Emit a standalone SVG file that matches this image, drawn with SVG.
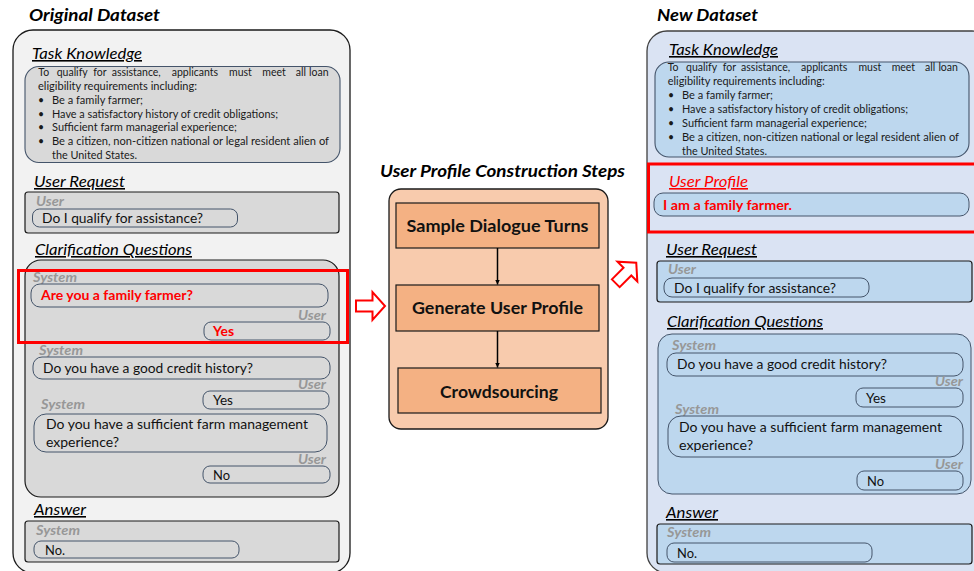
<svg xmlns="http://www.w3.org/2000/svg" width="974" height="571" viewBox="0 0 974 571">
  <defs>
    <marker id="ah" viewBox="0 0 10 10" refX="10" refY="5" markerWidth="5" markerHeight="5" orient="auto" markerUnits="userSpaceOnUse">
      <path d="M0,0 L10,5 L0,10 z" fill="#000"/>
    </marker>
    <style>
      text { font-family: Lato, "Liberation Sans", sans-serif; }
      .title { font-size: 17px; font-weight: bold; font-style: italic; fill: #000; }
      .head { font-size: 16px; font-style: italic; fill: #000; text-decoration: underline; }
      .headr { font-size: 16px; font-style: italic; fill: #ff0000; text-decoration: underline; }
      .kn { font-size: 10.5px; fill: #1a1a1a; }
      .spk { font-size: 12.5px; font-weight: bold; font-style: italic; fill: #979797; }
      .msg { font-size: 14px; fill: #111; }
      .red { font-size: 14px; font-weight: bold; fill: #ff0000; }
      .step { font-size: 17px; font-weight: bold; fill: #111; }
      .panelL { fill: #f2f2f2; stroke: #1a1a1a; stroke-width: 1.3; }
      .panelR { fill: #dae3f3; stroke: #404040; stroke-width: 1.3; }
      .boxL { fill: #d9d9d9; stroke: #1a1a1a; stroke-width: 1.2; }
      .boxR { fill: #bdd7ee; stroke: #1a1a1a; stroke-width: 1.2; }
      .knL { fill: #d9d9d9; stroke: #44546a; stroke-width: 1.1; }
      .knR { fill: #bdd7ee; stroke: #44546a; stroke-width: 1.1; }
      .bubL { fill: #d9d9d9; stroke: #44546a; stroke-width: 1; }
      .bubR { fill: #bdd7ee; stroke: #44546a; stroke-width: 1; }
      .hl { fill: none; stroke: #ff0000; stroke-width: 3; }
      .stepsOuter { fill: #f8cbad; stroke: #1a1a1a; stroke-width: 1.3; }
      .stepBox { fill: #f4b183; stroke: #1a1a1a; stroke-width: 1.2; }
      .flow { stroke: #000; stroke-width: 1.5; fill: none; }
      .block { fill: #fff; stroke: #ff0000; stroke-width: 2; stroke-linejoin: miter; }
    </style>
  </defs>

  <rect width="974" height="571" fill="#fff"/>

  <!-- Original dataset panel -->
  <g id="original-dataset">
    <text class="title" x="29" y="21" textLength="131" lengthAdjust="spacingAndGlyphs">Original Dataset</text>
    <rect class="panelL" x="13" y="30" width="337" height="543" rx="20"/>

    <g id="orig-task-knowledge">
      <text class="head" x="32" y="59" textLength="110" lengthAdjust="spacingAndGlyphs">Task Knowledge</text>
      <rect class="knL" x="25" y="66.5" width="315" height="96" rx="14"/>
      <!-- justified first line: one word per run -->
      <text class="kn" y="75.5"><tspan x="38.3">To</tspan><tspan x="56.7">qualify</tspan><tspan x="93.3">for</tspan><tspan x="111.7">assistance,</tspan><tspan x="171.7">applicants</tspan><tspan x="229">must</tspan><tspan x="262.3">meet</tspan><tspan x="295.7">all</tspan><tspan x="309">loan</tspan></text>
      <text class="kn" x="38" y="89.5" textLength="159" lengthAdjust="spacingAndGlyphs">eligibility requirements including:</text>
      <text class="kn" x="38" y="103.5">•</text>
      <text class="kn" x="52" y="103.5" textLength="91" lengthAdjust="spacingAndGlyphs">Be a family farmer;</text>
      <text class="kn" x="38" y="117.5">•</text>
      <text class="kn" x="52" y="117.5" textLength="226" lengthAdjust="spacingAndGlyphs">Have a satisfactory history of credit obligations;</text>
      <text class="kn" x="38" y="131">•</text>
      <text class="kn" x="52" y="131" textLength="185" lengthAdjust="spacingAndGlyphs">Sufficient farm managerial experience;</text>
      <text class="kn" x="38" y="145">•</text>
      <text class="kn" x="52" y="145" textLength="277" lengthAdjust="spacingAndGlyphs">Be a citizen, non-citizen national or legal resident alien of</text>
      <text class="kn" x="52" y="159" textLength="85" lengthAdjust="spacingAndGlyphs">the United States.</text>
    </g>

    <g id="orig-user-request">
      <text class="head" x="34" y="187" textLength="91" lengthAdjust="spacingAndGlyphs">User Request</text>
      <rect class="boxL" x="25" y="192" width="314" height="41" rx="3"/>
      <text class="spk" x="36" y="206" textLength="28" lengthAdjust="spacingAndGlyphs">User</text>
      <rect class="bubL" x="32.5" y="209" width="205" height="18" rx="7"/>
      <text class="msg" x="42" y="223" textLength="161" lengthAdjust="spacingAndGlyphs">Do I qualify for assistance?</text>
    </g>

    <g id="orig-clarification">
      <text class="head" x="35" y="255" textLength="157" lengthAdjust="spacingAndGlyphs">Clarification Questions</text>
      <rect class="boxL" x="25" y="260" width="314" height="237" rx="16"/>

      <text class="spk" x="33" y="281.5" textLength="44" lengthAdjust="spacingAndGlyphs">System</text>
      <rect class="bubL" x="31" y="284" width="297" height="23" rx="9"/>
      <text class="red" x="41" y="299.5" textLength="152" lengthAdjust="spacingAndGlyphs">Are you a family farmer?</text>
      <text class="spk" x="326" y="320" text-anchor="end" textLength="28" lengthAdjust="spacingAndGlyphs">User</text>
      <rect class="bubL" x="204" y="322" width="126" height="18" rx="7"/>
      <text class="red" x="213" y="336" textLength="21" lengthAdjust="spacingAndGlyphs">Yes</text>

      <text class="spk" x="39" y="355" textLength="44" lengthAdjust="spacingAndGlyphs">System</text>
      <rect class="bubL" x="33" y="357" width="297" height="22" rx="9"/>
      <text class="msg" x="43" y="373" textLength="210" lengthAdjust="spacingAndGlyphs">Do you have a good credit history?</text>
      <text class="spk" x="326" y="388.5" text-anchor="end" textLength="28" lengthAdjust="spacingAndGlyphs">User</text>
      <rect class="bubL" x="203" y="391" width="126" height="18" rx="7"/>
      <text class="msg" x="213" y="404.5" textLength="20" lengthAdjust="spacingAndGlyphs">Yes</text>

      <text class="spk" x="41" y="409" textLength="44" lengthAdjust="spacingAndGlyphs">System</text>
      <rect class="bubL" x="34" y="414" width="293" height="38" rx="12"/>
      <text class="msg" x="46" y="428.5" textLength="262" lengthAdjust="spacingAndGlyphs">Do you have a sufficient farm management</text>
      <text class="msg" x="46" y="446.5" textLength="73" lengthAdjust="spacingAndGlyphs">experience?</text>
      <text class="spk" x="326" y="464" text-anchor="end" textLength="28" lengthAdjust="spacingAndGlyphs">User</text>
      <rect class="bubL" x="203" y="466" width="127" height="17" rx="7"/>
      <text class="msg" x="213" y="480" textLength="17" lengthAdjust="spacingAndGlyphs">No</text>

      <rect class="hl" x="18.5" y="270.5" width="329" height="72"/>
    </g>

    <g id="orig-answer">
      <text class="head" x="34" y="515" textLength="52" lengthAdjust="spacingAndGlyphs">Answer</text>
      <rect class="boxL" x="25" y="521" width="314" height="41" rx="3"/>
      <text class="spk" x="36" y="535" textLength="44" lengthAdjust="spacingAndGlyphs">System</text>
      <rect class="bubL" x="34" y="541" width="205" height="17" rx="7"/>
      <text class="msg" x="45" y="555" textLength="20" lengthAdjust="spacingAndGlyphs">No.</text>
    </g>
  </g>

  <!-- Profile construction steps -->
  <g id="construction-steps">
    <text class="title" x="380" y="177" font-size="16.5" textLength="245" lengthAdjust="spacingAndGlyphs">User Profile Construction Steps</text>
    <rect class="stepsOuter" x="389" y="189" width="219" height="240" rx="12"/>
    <g id="step-sample">
      <rect class="stepBox" x="396" y="203" width="203" height="45"/>
      <text class="step" x="497.5" y="232" text-anchor="middle" textLength="182" lengthAdjust="spacingAndGlyphs">Sample Dialogue Turns</text>
    </g>
    <g id="step-generate">
      <rect class="stepBox" x="396" y="285" width="203" height="46"/>
      <text class="step" x="497.5" y="314" text-anchor="middle" textLength="171" lengthAdjust="spacingAndGlyphs">Generate User Profile</text>
    </g>
    <g id="step-crowd">
      <rect class="stepBox" x="398" y="368" width="203" height="45"/>
      <text class="step" x="499" y="398" text-anchor="middle" textLength="118" lengthAdjust="spacingAndGlyphs">Crowdsourcing</text>
    </g>
  </g>

  <!-- New dataset panel -->
  <g id="new-dataset">
    <text class="title" x="657" y="21" textLength="101" lengthAdjust="spacingAndGlyphs">New Dataset</text>
    <rect class="panelR" x="647" y="31" width="345" height="542" rx="20"/>

    <g id="new-task-knowledge">
      <text class="head" x="669" y="55" textLength="109" lengthAdjust="spacingAndGlyphs">Task Knowledge</text>
      <rect class="knR" x="655" y="62" width="314" height="95" rx="14"/>
      <text class="kn" y="71"><tspan x="667.7">To</tspan><tspan x="686.1">qualify</tspan><tspan x="722.7">for</tspan><tspan x="741.1">assistance,</tspan><tspan x="801.1">applicants</tspan><tspan x="858.4">must</tspan><tspan x="891.7">meet</tspan><tspan x="925.1">all</tspan><tspan x="938.4">loan</tspan></text>
      <text class="kn" x="667.7" y="85" textLength="157" lengthAdjust="spacingAndGlyphs">eligibility requirements including:</text>
      <text class="kn" x="668" y="99">•</text>
      <text class="kn" x="682" y="99" textLength="91" lengthAdjust="spacingAndGlyphs">Be a family farmer;</text>
      <text class="kn" x="668" y="113">•</text>
      <text class="kn" x="682" y="113" textLength="226" lengthAdjust="spacingAndGlyphs">Have a satisfactory history of credit obligations;</text>
      <text class="kn" x="668" y="127">•</text>
      <text class="kn" x="682" y="127" textLength="185" lengthAdjust="spacingAndGlyphs">Sufficient farm managerial experience;</text>
      <text class="kn" x="668" y="141">•</text>
      <text class="kn" x="682" y="141" textLength="277" lengthAdjust="spacingAndGlyphs">Be a citizen, non-citizen national or legal resident alien of</text>
      <text class="kn" x="682" y="155" textLength="85" lengthAdjust="spacingAndGlyphs">the United States.</text>
    </g>

    <g id="new-user-profile">
      <text class="headr" x="669" y="187" textLength="79" lengthAdjust="spacingAndGlyphs">User Profile</text>
      <rect class="bubR" x="654" y="193" width="315" height="23" rx="9"/>
      <text class="red" x="663" y="209.5" textLength="129" lengthAdjust="spacingAndGlyphs">I am a family farmer.</text>
      <rect class="hl" x="648.5" y="164" width="330" height="68"/>
    </g>

    <g id="new-user-request">
      <text class="head" x="666" y="255" textLength="91" lengthAdjust="spacingAndGlyphs">User Request</text>
      <rect class="boxR" x="657" y="261" width="315" height="41" rx="3"/>
      <text class="spk" x="668" y="274" textLength="28" lengthAdjust="spacingAndGlyphs">User</text>
      <rect class="bubR" x="664" y="278" width="205" height="19" rx="8"/>
      <text class="msg" x="674" y="292.5" textLength="162" lengthAdjust="spacingAndGlyphs">Do I qualify for assistance?</text>
    </g>

    <g id="new-clarification">
      <text class="head" x="667" y="327" textLength="156" lengthAdjust="spacingAndGlyphs">Clarification Questions</text>
      <rect class="bubR" x="658" y="334" width="313" height="160" rx="14"/>

      <text class="spk" x="672" y="350" textLength="44" lengthAdjust="spacingAndGlyphs">System</text>
      <rect class="bubR" x="667" y="353" width="296" height="23" rx="9"/>
      <text class="msg" x="677" y="369" textLength="210" lengthAdjust="spacingAndGlyphs">Do you have a good credit history?</text>
      <text class="spk" x="963" y="386" text-anchor="end" textLength="28" lengthAdjust="spacingAndGlyphs">User</text>
      <rect class="bubR" x="856" y="388" width="107" height="19" rx="7"/>
      <text class="msg" x="866" y="403" textLength="20" lengthAdjust="spacingAndGlyphs">Yes</text>

      <text class="spk" x="675" y="414" textLength="44" lengthAdjust="spacingAndGlyphs">System</text>
      <rect class="bubR" x="668" y="416" width="295" height="41" rx="13"/>
      <text class="msg" x="679" y="432" textLength="263" lengthAdjust="spacingAndGlyphs">Do you have a sufficient farm management</text>
      <text class="msg" x="679" y="449.5" textLength="74" lengthAdjust="spacingAndGlyphs">experience?</text>
      <text class="spk" x="963" y="469" text-anchor="end" textLength="28" lengthAdjust="spacingAndGlyphs">User</text>
      <rect class="bubR" x="857" y="471" width="106" height="19" rx="7"/>
      <text class="msg" x="867" y="485.5" textLength="17" lengthAdjust="spacingAndGlyphs">No</text>
    </g>

    <g id="new-answer">
      <text class="head" x="666" y="518" textLength="52" lengthAdjust="spacingAndGlyphs">Answer</text>
      <rect class="boxR" x="657" y="524" width="315" height="40" rx="3"/>
      <text class="spk" x="667" y="537" textLength="44" lengthAdjust="spacingAndGlyphs">System</text>
      <rect class="bubR" x="667" y="543" width="205" height="19" rx="7"/>
      <text class="msg" x="677" y="558" textLength="20" lengthAdjust="spacingAndGlyphs">No.</text>
    </g>
  </g>

  <!-- Connectors -->
  <g id="connectors">
    <line class="flow" x1="497.5" y1="248" x2="497.5" y2="284.5" marker-end="url(#ah)"/>
    <line class="flow" x1="497.5" y1="331" x2="497.5" y2="367.5" marker-end="url(#ah)"/>
    <polygon class="block" transform="translate(370.5,306)" points="-14.5,-5.5 2,-5.5 2,-14 14.5,0 2,14 2,5.5 -14.5,5.5"/>
    <polygon class="block" transform="translate(626,273) rotate(-45)" points="-14.5,-5.5 2,-5.5 2,-14 14.5,0 2,14 2,5.5 -14.5,5.5"/>
  </g>
</svg>
